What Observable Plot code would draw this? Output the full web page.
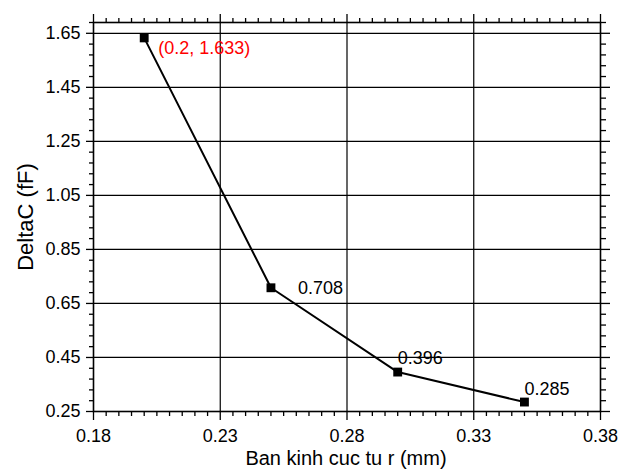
<!DOCTYPE html>
<html><head><meta charset="utf-8">
<script src="https://cdn.jsdelivr.net/npm/d3@7"></script>
<script src="https://cdn.jsdelivr.net/npm/@observablehq/plot@0.6"></script>
<style>body{margin:0;background:#fff;} svg{font-family:"Liberation Sans",Arial,sans-serif;}</style>
</head><body><div id="chart"></div>
<script>
const radius = [0.2, 0.25, 0.3, 0.35];
const deltaC = [1.633, 0.708, 0.396, 0.285];
const pointLabels = ["(0.2, 1.633)", "0.708", "0.396", "0.285"];
const xTicks = [0.18, 0.23, 0.28, 0.33, 0.38];
const yTicks = [0.25, 0.45, 0.65, 0.85, 1.05, 1.25, 1.45, 1.65];
const xTitle = "Ban kinh cuc tu r (mm)";
const yTitle = "DeltaC (fF)";

const data = radius.map((r, i) => ({x: r, y: deltaC[i], label: pointLabels[i]}));
const xMinor = d3.range(0, 41).map(i => +(0.18 + i * 0.005).toFixed(4)).filter(v => !xTicks.some(t => Math.abs(t - v) < 1e-6));
const yMinor = d3.range(0, 37).map(i => +(0.25 + i * 0.04).toFixed(4)).filter(v => !yTicks.some(t => Math.abs(t - v) < 1e-6));

const chart = Plot.plot({
  width: 624, height: 470,
  marginLeft: 93, marginRight: 24, marginTop: 22, marginBottom: 59,
  x: {domain: [0.18, 0.38]},
  y: {domain: [0.25, 1.69]},
  style: {fontSize: "18px", fontFamily: "Liberation Sans, Arial, sans-serif", color: "black"},
  marks: [
    Plot.gridX(xTicks.slice(1, -1), {stroke: "black", strokeOpacity: 1, strokeWidth: 1.2}),
    Plot.gridY(yTicks.slice(1), {stroke: "black", strokeOpacity: 1, strokeWidth: 1.2}),
    Plot.frame({stroke: "black", strokeWidth: 1.6}),
    Plot.axisX(xTicks, {anchor: "bottom", tickSize: 9, tickPadding: 9, tickFormat: d => d.toFixed(2), label: null, fontSize: 18, strokeWidth: 1.3}),
    Plot.axisX(xMinor, {anchor: "bottom", tickSize: 5, text: null, label: null, strokeWidth: 1.3}),
    Plot.axisX(xTicks, {anchor: "top", tickSize: 9, text: null, label: null, strokeWidth: 1.3}),
    Plot.axisX(xMinor, {anchor: "top", tickSize: 5, text: null, label: null, strokeWidth: 1.3}),
    Plot.axisY(yTicks, {anchor: "left", tickSize: 7, tickPadding: 6, tickFormat: d => d.toFixed(2), label: null, fontSize: 18, strokeWidth: 1.3}),
    Plot.axisY(yMinor, {anchor: "left", tickSize: 4, text: null, label: null, strokeWidth: 1.3}),
    Plot.axisY(yTicks, {anchor: "right", tickSize: 9, text: null, label: null, strokeWidth: 1.3}),
    Plot.axisY(yMinor, {anchor: "right", tickSize: 5, text: null, label: null, strokeWidth: 1.3}),
    Plot.line(data, {x: "x", y: "y", stroke: "black", strokeWidth: 2}),
    Plot.dot(data, {x: "x", y: "y", symbol: "square", r: 5, fill: "black", stroke: "none"}),
    Plot.text([data[0]], {x: "x", y: "y", text: "label", fill: "red", textAnchor: "start", dx: 14, dy: 10, fontSize: 18}),
    Plot.text([data[1]], {x: "x", y: "y", text: "label", fill: "black", textAnchor: "start", dx: 27, dy: 0, fontSize: 18}),
    Plot.text([data[2]], {x: "x", y: "y", text: "label", fill: "black", textAnchor: "start", dx: 0, dy: -14, fontSize: 18}),
    Plot.text([data[3]], {x: "x", y: "y", text: "label", fill: "black", textAnchor: "start", dx: 0, dy: -13, fontSize: 18})
  ]
});
const svg = d3.select(chart);
svg.append("text").attr("x", 346).attr("y", 465).attr("text-anchor", "middle")
  .attr("font-size", 20).attr("fill", "black").text(xTitle);
svg.append("text").attr("transform", "translate(33,217) rotate(-90)").attr("text-anchor", "middle")
  .attr("font-size", 22).attr("fill", "black").text(yTitle);
document.getElementById("chart").appendChild(chart);
</script></body></html>
